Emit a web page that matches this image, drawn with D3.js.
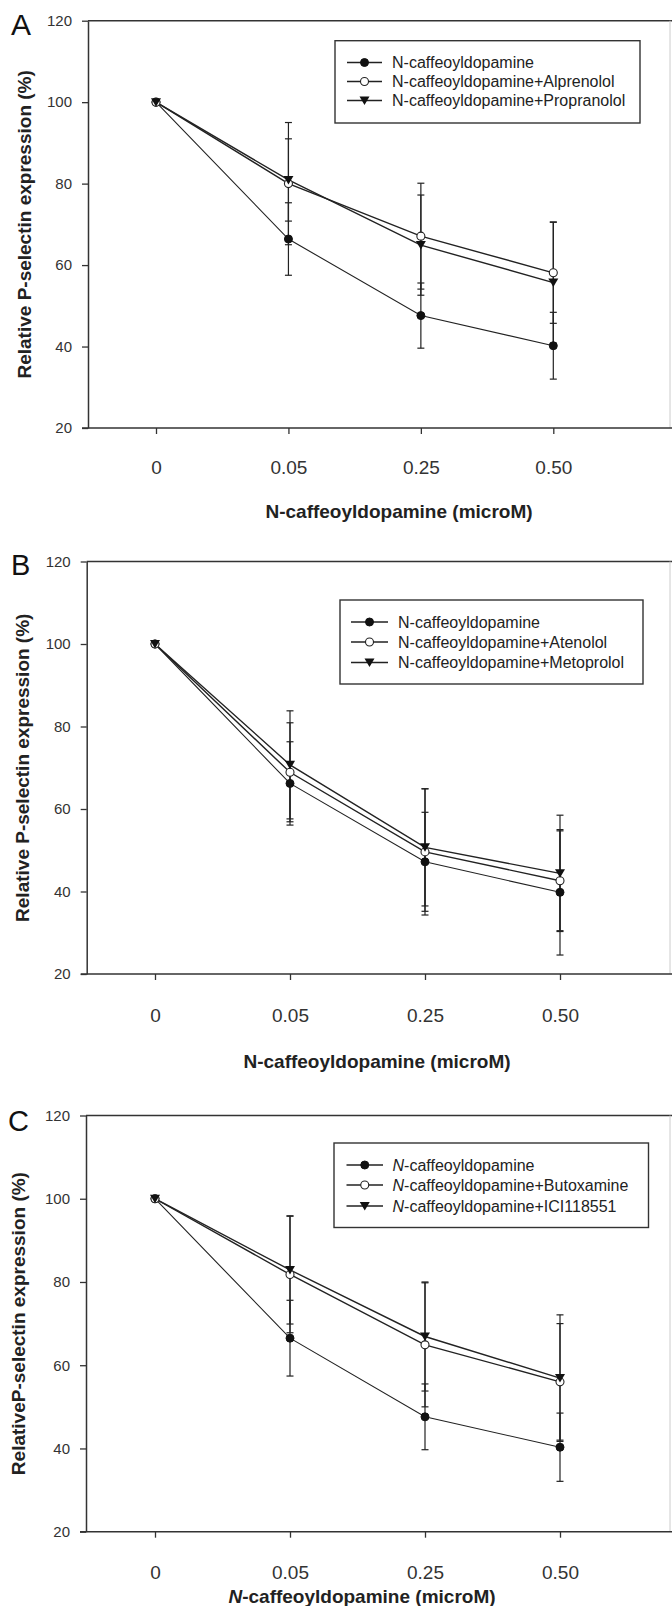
<!DOCTYPE html>
<html>
<head>
<meta charset="utf-8">
<script src="https://cdn.jsdelivr.net/npm/d3@7"></script>
<style>
  html, body { margin: 0; padding: 0; background: #fff; }
  svg { display: block; font-family: "Liberation Sans", Arial, sans-serif; }
</style>
</head>
<body>
<svg id="chart" width="672" height="1606"></svg>
<script>
// ---------- data ----------
const xCategories = ["0", "0.05", "0.25", "0.50"];
const yTickValues = [20, 40, 60, 80, 100, 120];

// Panel A
const namesA = ["N-caffeoyldopamine", "N-caffeoyldopamine+Alprenolol", "N-caffeoyldopamine+Propranolol"];
const ctrlA = [100, 66.4, 47.6, 40.2];
const ctrlErrA = [0, 8.9, 8.0, 8.2];
const alprenololA = [100, 80.0, 67.1, 58.1];
const alprenololErrA = [0, 15.0, 13.0, 12.4];
const propranololA = [100, 80.9, 64.9, 55.7];
const propranololErrA = [0, 10.1, 12.3, 14.9];

// Panel B
const namesB = ["N-caffeoyldopamine", "N-caffeoyldopamine+Atenolol", "N-caffeoyldopamine+Metoprolol"];
const ctrlB = [100, 66.2, 47.2, 39.8];
const ctrlErrB = [0, 10.1, 12.0, 15.2];
const atenololB = [100, 68.9, 49.6, 42.6];
const atenololErrB = [0, 12.0, 15.3, 12.1];
const metoprololB = [100, 70.7, 50.7, 44.4];
const metoprololErrB = [0, 13.1, 14.2, 14.1];

// Panel C
const namesC = ["-caffeoyldopamine", "-caffeoyldopamine+Butoxamine", "-caffeoyldopamine+ICI118551"];
const ctrlC = [100, 66.5, 47.6, 40.3];
const ctrlErrC = [0, 9.1, 7.9, 8.2];
const butoxamineC = [100, 81.8, 64.9, 56.0];
const butoxamineErrC = [0, 14.0, 14.9, 14.0];
const iciC = [100, 82.9, 66.9, 56.9];
const iciErrC = [0, 13.0, 13.1, 15.2];

const markerTypes = ["filled", "open", "triangle"];

// ---------- layout ----------
const svg = d3.select("#chart");
svg.append("rect").attr("width", 672).attr("height", 1606).attr("fill", "#fff");

const panels = [
  { letter: "A", letterX: 11, letterY: 35, letterSize: 30,
    axisX: 88, yTop: 20.7, yBot: 428, x0: 156, x1: 553.3, tickPad: 27,
    yTitle: "Relative P-selectin expression (%)", yTitleX: 31, italicN: false,
    xTitleX: 399, xTitleY: 518,
    legend: { x0: 335, y0: 40.7, x1: 640, y1: 123, rows: [62.5, 81.5, 100.5], lx0: 347, lx1: 382, tx: 392 },
    names: namesA,
    vals: [ctrlA, alprenololA, propranololA], errs: [ctrlErrA, alprenololErrA, propranololErrA] },
  { letter: "B", letterX: 11, letterY: 575, letterSize: 29,
    axisX: 86.7, yTop: 561.5, yBot: 974, x0: 155, x1: 560, tickPad: 29,
    yTitle: "Relative P-selectin expression (%)", yTitleX: 29, italicN: false,
    xTitleX: 377, xTitleY: 1068,
    legend: { x0: 340, y0: 600, x1: 643, y1: 684, rows: [622, 642, 662.5], lx0: 351, lx1: 388, tx: 398 },
    names: namesB,
    vals: [ctrlB, atenololB, metoprololB], errs: [ctrlErrB, atenololErrB, metoprololErrB] },
  { letter: "C", letterX: 8, letterY: 1131, letterSize: 29,
    axisX: 86, yTop: 1115.5, yBot: 1531.7, x0: 155, x1: 560, tickPad: 28,
    yTitle: "RelativeP-selectin expression (%)", yTitleX: 25, italicN: true,
    xTitleX: 362, xTitleY: 1603,
    legend: { x0: 334, y0: 1143, x1: 648.5, y1: 1227.5, rows: [1165, 1185, 1206], lx0: 346.5, lx1: 383, tx: 392.5 },
    names: namesC,
    vals: [ctrlC, butoxamineC, iciC], errs: [ctrlErrC, butoxamineErrC, iciErrC] }
];

const ink = "#222";

function drawMarker(g, type, cx, cy) {
  if (type === "filled") {
    g.append("circle").attr("cx", cx).attr("cy", cy).attr("r", 4).attr("fill", "#111").attr("stroke", "#111").attr("stroke-width", 1);
  } else if (type === "open") {
    g.append("circle").attr("cx", cx).attr("cy", cy).attr("r", 4).attr("fill", "#fff").attr("stroke", "#222").attr("stroke-width", 1.1);
  } else {
    g.append("path").attr("d", `M${cx - 5},${cy - 4}L${cx + 5},${cy - 4}L${cx},${cy + 4.5}Z`).attr("fill", "#111");
  }
}

panels.forEach(p => {
  const g = svg.append("g");
  const x = d3.scalePoint().domain(xCategories).range([p.x0, p.x1]);
  const y = d3.scaleLinear().domain([20, 120]).range([p.yBot, p.yTop]);

  // frame
  g.append("line").attr("x1", p.axisX).attr("x2", 672).attr("y1", y(120)).attr("y2", y(120)).attr("stroke", "#333").attr("stroke-width", 1.5);
  g.append("line").attr("x1", 670).attr("x2", 670).attr("y1", y(120)).attr("y2", y(20)).attr("stroke", "#ccc").attr("stroke-width", 1);
  g.append("line").attr("x1", p.axisX - 6).attr("x2", 672).attr("y1", y(20)).attr("y2", y(20)).attr("stroke", "#333").attr("stroke-width", 1.5);

  // y axis
  const yAxis = g.append("g").attr("transform", `translate(${p.axisX},0)`)
    .call(d3.axisLeft(y).tickValues(yTickValues).tickSize(6).tickSizeOuter(0).tickPadding(10));
  yAxis.select(".domain").attr("stroke", "#333").attr("stroke-width", 1.5);
  yAxis.selectAll(".tick line").attr("stroke", "#333").attr("stroke-width", 1.3);
  yAxis.selectAll(".tick text").attr("font-size", 15).attr("fill", "#333")
    .attr("font-family", "'Liberation Sans', Arial, sans-serif");

  // x axis
  const xAxis = g.append("g").attr("transform", `translate(0,${y(20)})`)
    .call(d3.axisBottom(x).tickSize(6).tickSizeOuter(0).tickPadding(p.tickPad));
  xAxis.select(".domain").remove();
  xAxis.selectAll(".tick line").attr("stroke", "#333").attr("stroke-width", 1.3);
  xAxis.selectAll(".tick text").attr("font-size", 19).attr("fill", "#333")
    .attr("font-family", "'Liberation Sans', Arial, sans-serif");

  // panel letter
  g.append("text").attr("x", p.letterX).attr("y", p.letterY).attr("font-size", p.letterSize).attr("fill", "#111").text(p.letter);

  // y title
  const yt = g.append("text")
    .attr("transform", `translate(${p.yTitleX},${(y(20) + y(120)) / 2}) rotate(-90)`)
    .attr("text-anchor", "middle").attr("font-size", 19).attr("font-weight", "bold").attr("fill", ink)
    .text(p.yTitle);

  // x title
  const xt = g.append("text").attr("x", p.xTitleX).attr("y", p.xTitleY)
    .attr("text-anchor", "middle").attr("font-size", 19).attr("font-weight", "bold").attr("fill", ink);
  if (p.italicN) {
    xt.append("tspan").attr("font-style", "italic").text("N");
    xt.append("tspan").text("-caffeoyldopamine (microM)");
  } else {
    xt.text("N-caffeoyldopamine (microM)");
  }

  // error bars
  p.vals.forEach((vals, si) => {
    vals.forEach((v, i) => {
      const e = p.errs[si][i];
      if (!e) return;
      const cx = x(xCategories[i]);
      g.append("line").attr("x1", cx).attr("x2", cx).attr("y1", y(v + e)).attr("y2", y(v - e)).attr("stroke", ink).attr("stroke-width", 1.2);
      [v + e, v - e].forEach(c => {
        g.append("line").attr("x1", cx - 3.5).attr("x2", cx + 3.5).attr("y1", y(c)).attr("y2", y(c)).attr("stroke", ink).attr("stroke-width", 1.2);
      });
    });
  });

  // lines
  const line = d3.line().x((d, i) => x(xCategories[i])).y(d => y(d));
  p.vals.forEach((vals, si) => {
    g.append("path").attr("d", line(vals)).attr("fill", "none").attr("stroke", ink).attr("stroke-width", si === 0 ? 1.1 : 1.4);
  });

  // markers
  p.vals.forEach((vals, si) => {
    vals.forEach((v, i) => drawMarker(g, markerTypes[si], x(xCategories[i]), y(v)));
  });

  // legend
  const L = p.legend;
  g.append("rect").attr("x", L.x0).attr("y", L.y0).attr("width", L.x1 - L.x0).attr("height", L.y1 - L.y0)
    .attr("fill", "#fff").attr("stroke", "#333").attr("stroke-width", 1.4);
  p.names.forEach((name, si) => {
    const ry = L.rows[si];
    g.append("line").attr("x1", L.lx0).attr("x2", L.lx1).attr("y1", ry).attr("y2", ry).attr("stroke", ink).attr("stroke-width", 1.4);
    drawMarker(g, markerTypes[si], (L.lx0 + L.lx1) / 2, ry);
    const t = g.append("text").attr("x", L.tx).attr("y", ry).attr("dy", "0.36em").attr("font-size", 16).attr("fill", ink);
    if (p.italicN) {
      t.append("tspan").attr("font-style", "italic").text("N");
      t.append("tspan").text(name);
    } else {
      t.text(name);
    }
  });
});
</script>
</body>
</html>
